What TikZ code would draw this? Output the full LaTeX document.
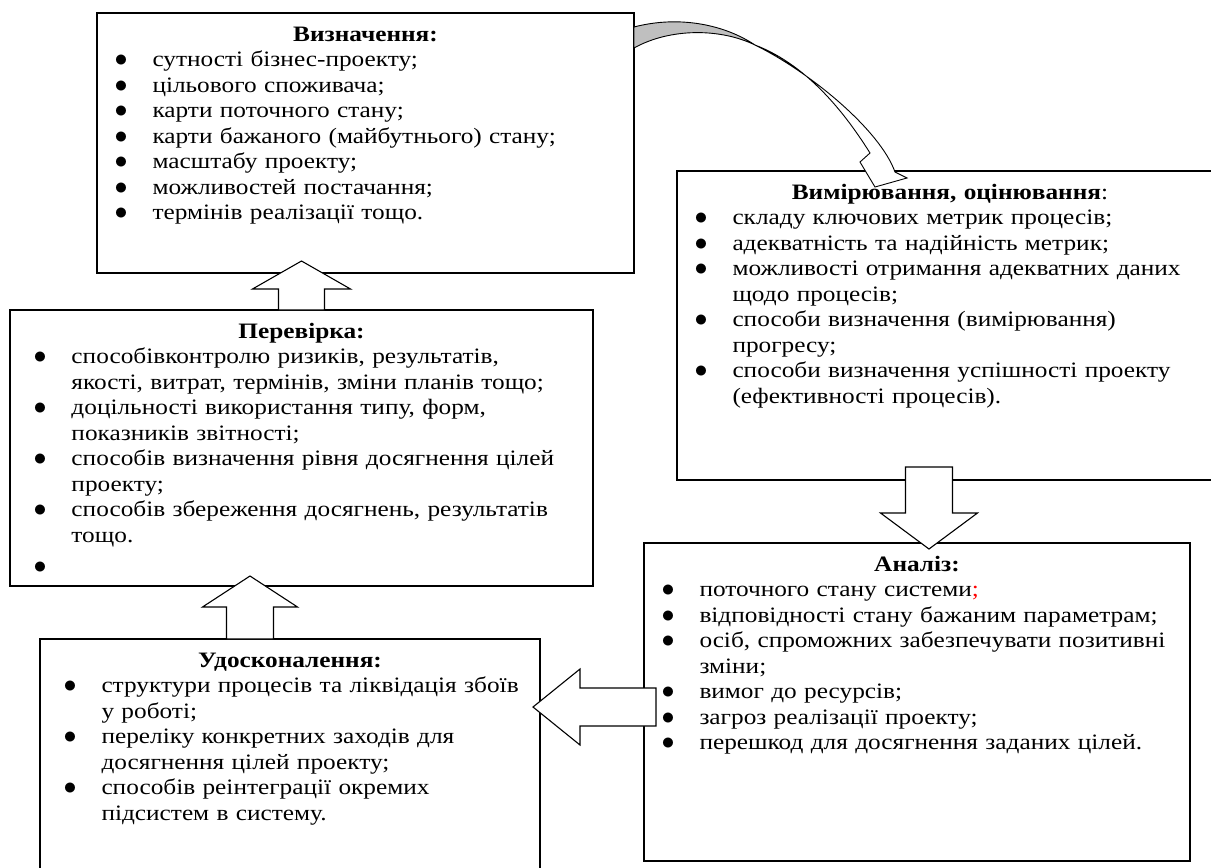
\documentclass[tikz,border=0pt]{standalone}
\usepackage{fontspec}
\setmainfont[FakeStretch=1.15]{Liberation Serif}
\usetikzlibrary{calc}

\newcommand{\bitem}[1]{\par\noindent\hangindent=38pt\hangafter=1\makebox[38pt][l]{\scalebox{1.25}{$\bullet$}}#1}

\begin{document}
\begin{tikzpicture}[x=1pt, y=-1pt, line width=1.1pt,
    font=\fontsize{22}{25.5}\selectfont,
    box/.style={draw, anchor=north west, align=left, outer sep=0pt,
      inner xsep=17.5pt, inner ysep=13pt, text height=15pt},
    widebox/.style={box, inner xsep=23.5pt},
    bigarrow/.style n args={3}{draw, fill=white, line join=miter,
      to path={let \p1=(\tikztostart), \p2=(\tikztotarget),
        \n1={atan2(\y2-\y1,\x2-\x1)}, \n2={veclen(\x2-\x1,\y2-\y1)} in
        ([shift={(\p1)},rotate=\n1]0pt,#1)
        -- ([shift={(\p1)},rotate=\n1]\n2-#3,#1)
        -- ([shift={(\p1)},rotate=\n1]\n2-#3,#2)
        -- (\p2)
        -- ([shift={(\p1)},rotate=\n1]\n2-#3,-#2)
        -- ([shift={(\p1)},rotate=\n1]\n2-#3,-#1)
        -- ([shift={(\p1)},rotate=\n1]0pt,-#1) -- cycle}}]
  \useasboundingbox (0,0) rectangle (1211,868);
  \clip (0,0) rectangle (1211,868);

  % boxes
  \node[box, text width=502pt, text depth=219pt] (define) at (97,13) {%
    \centerline{\textbf{Визначення:}}
    \bitem{сутності бізнес-проекту;}
    \bitem{цільового споживача;}
    \bitem{карти поточного стану;}
    \bitem{карти бажаного (майбутнього) стану;}
    \bitem{масштабу проекту;}
    \bitem{можливостей постачання;}
    \bitem{термінів реалізації тощо.}\par};
  \node[box, text width=511pt, text depth=268pt] (measure) at (677,171) {%
    \centerline{\textbf{Вимірювання, оцінювання}:}
    \bitem{складу ключових метрик процесів;}
    \bitem{адекватність та надійність метрик;}
    \bitem{можливості отримання адекватних даних\newline щодо процесів;}
    \bitem{способи визначення (вимірювання)\newline прогресу;}
    \bitem{способи визначення успішності проекту\newline (ефективності процесів).}\par};
  \node[box, text width=511pt, text depth=277pt] (analysis) at (644,543) {%
    \centerline{\textbf{Аналіз:}}
    \bitem{поточного стану системи\textcolor{red}{;}}
    \bitem{відповідності стану бажаним параметрам;}
    \bitem{осіб, спроможних забезпечувати позитивні\newline зміни;}
    \bitem{вимог до ресурсів;}
    \bitem{загроз реалізації проекту;}
    \bitem{перешкод для досягнення заданих цілей.}\par};
  \node[widebox, text width=536pt, text depth=235pt] (verify) at (10,310) {%
    \centerline{\textbf{Перевірка:}}
    \bitem{способівконтролю ризиків, результатів,\newline якості, витрат, термінів, зміни планів тощо;}
    \bitem{доцільності використання типу, форм,\newline показників звітності;}
    \bitem{способів визначення рівня досягнення цілей\newline проекту;}
    \bitem{способів збереження досягнень, результатів\newline тощо.}
    \par\vspace{6pt}
    \bitem{}\par};
  \node[widebox, text width=453pt, text depth=219pt] (improve) at (40,639) {%
    \centerline{\textbf{Удосконалення:}}
    \bitem{\mbox{структури процесів та ліквідація збоїв}\newline у роботі;}
    \bitem{переліку конкретних заходів для\newline досягнення цілей проекту;}
    \bitem{способів реінтеграції окремих\newline підсистем в систему.}\par};

  % block arrows
  \draw[bigarrow={23pt}{49pt}{28pt}] (verify.north) to ($(define.south -| verify.north)+(0,-12)$);
  \draw[bigarrow={23.5pt}{47.5pt}{31pt}] ($(improve.north west)+(210,0)$) to ($(verify.south west)+(240,-10)$);
  \draw[bigarrow={23.5pt}{48.5pt}{36pt}] ($(measure.south west)+(252,-13)$) to ($(analysis.north west)+(285,6)$);
  \draw[bigarrow={19pt}{38pt}{47pt}] ($(analysis.west)+(12,5)$) to ($(analysis.west -| improve.east)+(-7,5)$);

  % curved arrow
  \coordinate (ca) at ($(define.north east)+(0,14)$);
  \coordinate (cb) at ($(define.north east)+(0,35)$);
  \coordinate (ct) at ($(measure.north west)+(198,16)$);
  \filldraw[fill=black!25, line width=0.9pt] (ca) .. controls (680,15) and (725,25) .. (755,45)
    .. controls (720,28) and (670,28) .. (cb) -- cycle;
  \draw[fill=white, line width=0.9pt, line join=miter] (755,45) .. controls (810,72) and (880,130) .. (895,172)
    -- (907,178) -- (ct) -- (860,162) -- (870,153) .. controls (848,118) and (810,66) .. (755,45) -- cycle;
\end{tikzpicture}
\end{document}
